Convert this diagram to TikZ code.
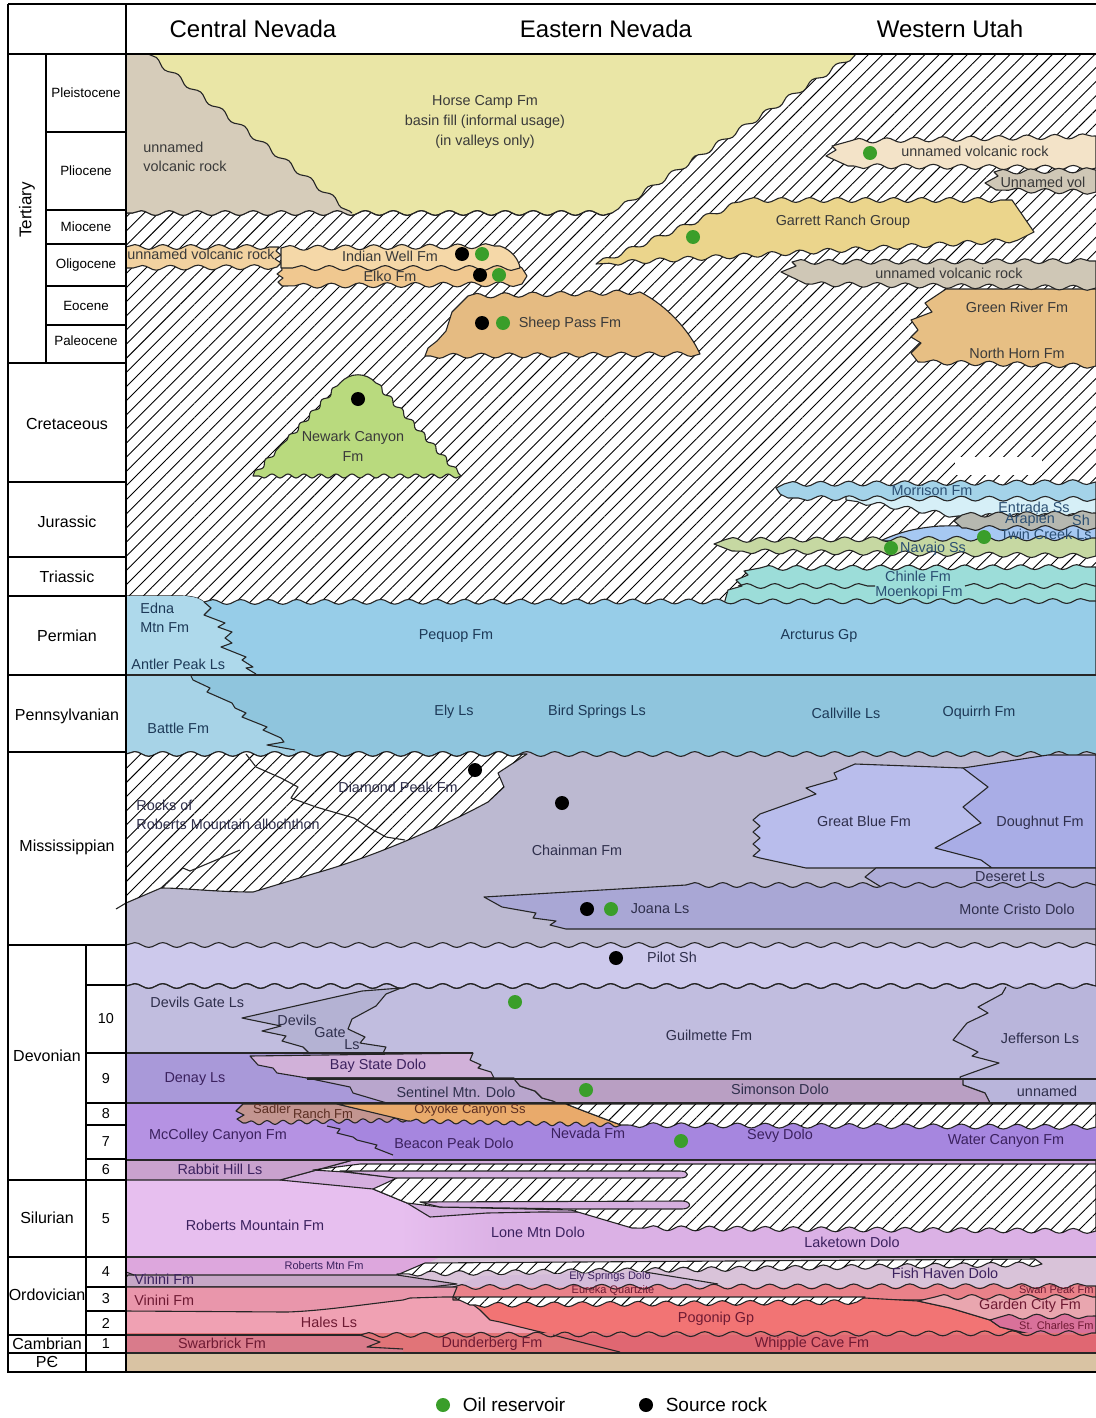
\documentclass[tikz,border=0pt]{standalone}
\usepackage{fontspec}
\setmainfont{Liberation Sans}
\usetikzlibrary{positioning, decorations.pathmorphing, patterns.meta}

% unit colours
\definecolor{horsecamp}{HTML}{EAE6A6}
\definecolor{volcgrey}{HTML}{D6CCBA}
\definecolor{volclight}{HTML}{F3E3C8}
\definecolor{volcmid}{HTML}{CFC7B6}
\definecolor{volcorange}{HTML}{F2D2A0}
\definecolor{garrett}{HTML}{EBD58C}
\definecolor{greenriver}{HTML}{E7BF84}
\definecolor{indianwell}{HTML}{F5D8A8}
\definecolor{elko}{HTML}{F0C890}
\definecolor{sheeppass}{HTML}{E5BB82}
\definecolor{newark}{HTML}{B9DA7E}
\definecolor{morrison}{HTML}{A4D3E9}
\definecolor{entrada}{HTML}{D6EFF7}
\definecolor{arapien}{HTML}{B6B8B0}
\definecolor{twincreek}{HTML}{A6C8F2}
\definecolor{navajo}{HTML}{C6D8A2}
\definecolor{chinle}{HTML}{9CDDD9}
\definecolor{pequop}{HTML}{97CDE8}
\definecolor{edna}{HTML}{AED9EB}
\definecolor{ely}{HTML}{8FC5DD}
\definecolor{battle}{HTML}{A7D3E7}
\definecolor{chainman}{HTML}{BCB9D1}
\definecolor{greatblue}{HTML}{B9BDEC}
\definecolor{doughnut}{HTML}{A9ADE6}
\definecolor{deseret}{HTML}{AEACD8}
\definecolor{joana}{HTML}{A9A7D5}
\definecolor{pilot}{HTML}{CDC9EC}
\definecolor{guilmette}{HTML}{C1BDDF}
\definecolor{devilsgate}{HTML}{B4B2D3}
\definecolor{jefferson}{HTML}{B9B5DB}
\definecolor{denay}{HTML}{A999D9}
\definecolor{baystate}{HTML}{D1B1D9}
\definecolor{sentinel}{HTML}{B9A6CD}
\definecolor{simonson}{HTML}{B99FC3}
\definecolor{mccolley}{HTML}{B592E3}
\definecolor{beacon}{HTML}{A686DF}
\definecolor{sadler}{HTML}{C39590}
\definecolor{oxyoke}{HTML}{E9AA6B}
\definecolor{rabbit}{HTML}{C9A2CE}
\definecolor{tongue}{HTML}{D5AFDF}
\definecolor{robmtn}{HTML}{E7BFEF}
\definecolor{laketown}{HTML}{DBB1E5}
\definecolor{robord}{HTML}{DDA7DD}
\definecolor{vinini}{HTML}{C6A7C6}
\definecolor{elysprings}{HTML}{D4BBD9}
\definecolor{fishhaven}{HTML}{D9C3D9}
\definecolor{vinini3}{HTML}{E996AB}
\definecolor{eureka}{HTML}{E98189}
\definecolor{gardencity}{HTML}{E9A6AF}
\definecolor{stcharles}{HTML}{D9719A}
\definecolor{pogonip}{HTML}{F27474}
\definecolor{hales}{HTML}{F0A1B3}
\definecolor{swarbrick}{HTML}{D97B8B}
\definecolor{dunderberg}{HTML}{E17478}
\definecolor{whipple}{HTML}{E06772}
\definecolor{precamb}{HTML}{D9C3A3}
\definecolor{oilgreen}{HTML}{3A9E2A}
% text colours
\definecolor{tgrey}{HTML}{3A3A3A}
\definecolor{tblue}{HTML}{1D3957}
\definecolor{tteal}{HTML}{2B4F73}
\definecolor{tlav}{HTML}{2F2F4C}
\definecolor{tpurple}{HTML}{3B215E}
\definecolor{tbrown}{HTML}{5B2E22}
\definecolor{tred}{HTML}{6E1A33}

\tikzstyle{unitline}=[draw=black!85, line width=0.55pt, line join=round]
\tikzstyle{tabline}=[line width=0.9pt]
\tikzstyle{hatch}=[fill=white, postaction={pattern={Lines[angle=45,distance=5pt,line width=0.45pt]}}]
\tikzstyle{wave}=[decoration={snake, amplitude=1.2pt, segment length=14pt}]
\tikzstyle{ripple}=[decoration={snake, amplitude=1pt, segment length=8pt}]
\tikzstyle{fm}=[font=\fontsize{7.2}{9.8}\selectfont, inner sep=0pt, text=tgrey]
\tikzstyle{fmsmall}=[fm, font=\fontsize{5.5}{6}\selectfont]
\tikzstyle{period}=[font=\fontsize{8}{9}\selectfont, inner sep=0pt]
\tikzstyle{epoch}=[font=\fontsize{6.7}{7}\selectfont, inner sep=0pt]
\tikzstyle{colhead}=[font=\fontsize{12}{13}\selectfont, inner sep=0pt]
\tikzstyle{oil}=[circle, fill=oilgreen, inner sep=0pt, minimum size=7pt]
\tikzstyle{src}=[circle, fill=black, inner sep=0pt, minimum size=7pt]
\tikzstyle{legendtext}=[font=\fontsize{9.5}{10}\selectfont, inner sep=0pt, anchor=west]

\begin{document}
\begin{tikzpicture}[x=0.5pt, y=-0.5pt]
  \useasboundingbox (0,0) rectangle (1096,1418);
  \fill[white] (0,0) rectangle (1096,1418);

  % Tertiary to Triassic
  \path[hatch] (126,54) rectangle (1096,612);
  \filldraw[unitline, fill=horsecamp] (126,54) -- (856,54) decorate[wave]{-- (612,213)} decorate[wave]{-- (126,213)} -- cycle;
  \begin{scope}
    \clip (126,50) -- (148,54) decorate[wave]{-- (352,213)} -- (352,240) -- (126,240) -- cycle;
    \fill[volcgrey] (126,54) -- (856,54) decorate[wave]{-- (612,213)} decorate[wave]{-- (126,213)} -- cycle;
  \end{scope}
  \draw[unitline] (148,54) decorate[wave]{-- (352,213)};
  \draw[unitline] (612,213) decorate[wave]{-- (126,213)};

  \filldraw[unitline, fill=garrett] (596,264) decorate[wave]{-- (745,200)} decorate[wave]{-- (1012,200)} -- (1034,232) -- (1018,240) decorate[wave]{-- (596,264)} -- cycle;
  \filldraw[unitline, fill=volclight] (826,156) -- (836,150) -- (832,146) -- (850,141) decorate[wave]{-- (1096,136)} -- (1096,168) decorate[wave]{-- (848,166)} -- cycle;
  \filldraw[unitline, fill=volcmid] (985,183) -- (998,176) -- (994,172) decorate[wave]{-- (1096,170)} -- (1096,192) decorate[wave]{-- (996,190)} -- cycle;
  \filldraw[unitline, fill=greenriver] (946,289) -- (1096,289) -- (1096,366) decorate[wave]{-- (918,362)} -- (911,353) -- (921,343) -- (911,337) -- (918,330) -- (911,320) -- (932,312) -- (925,303) -- cycle;
  \filldraw[unitline, fill=volcmid] (781,272) -- (796,266) -- (792,262) decorate[wave]{-- (1096,261)} -- (1096,288) decorate[wave]{-- (806,284)} -- cycle;

  \filldraw[unitline, fill=volcorange] (126,247) decorate[wave]{-- (279,247)} -- (276,251) -- (281,255) -- (275,259) -- (281,263) -- (277,267) decorate[wave]{-- (126,268)} -- cycle;
  \filldraw[unitline, fill=elko] (281,262) -- (512,262) -- (522,268) -- (527,276) -- (522,284) decorate[wave]{-- (282,286)} -- (278,282) -- (283,278) -- (277,274) -- (282,270) -- cycle;
  \filldraw[unitline, fill=indianwell] (281,248) decorate[wave]{-- (500,246)} .. controls (512,250) and (519,260) .. (520,268) decorate[wave]{-- (281,268)} -- cycle;
  \filldraw[unitline, fill=sheeppass] (468,296) decorate[wave]{-- (640,292)} .. controls (668,306) and (690,332) .. (700,354) decorate[wave]{-- (425,356)} -- (428,348) -- (437,341) -- (446,331) -- (452,312) -- cycle;
  \filldraw[unitline, fill=newark] (253,476) decorate[ripple]{-- (281,445)} -- (287,440) decorate[ripple]{-- (340,383)} .. controls (350,372) and (366,372) .. (376,383) decorate[ripple]{-- (461,476)} decorate[ripple]{-- (253,476)} -- cycle;

  % Western Utah, Jurassic and Triassic
  \fill[white] (955,457) rectangle (1042,475);
  \filldraw[unitline, fill=chinle] (724,604) -- (728,590) -- (742,586) -- (736,580) -- (748,575) -- (744,571) -- (760,568) decorate[wave]{-- (1096,567)} -- (1096,604) -- cycle;
  \draw[unitline] (738,586) decorate[wave]{-- (875,586)};
  \draw[unitline] (965,586) decorate[wave]{-- (1096,586)};
  \filldraw[unitline, fill=twincreek] (880,541) .. controls (900,532) and (915,528) .. (940,526) -- (1096,524) -- (1096,542) -- cycle;
  \filldraw[unitline, fill=entrada] (846,500) -- (846,494) -- (1096,494) -- (1096,516) decorate[wave]{-- (958,516)} decorate[wave]{-- (846,500)} -- cycle;
  \filldraw[unitline, fill=arapien] (954,521) -- (962,515) decorate[wave]{-- (1096,513)} -- (1096,528) decorate[wave]{-- (962,528)} -- cycle;
  \filldraw[unitline, fill=morrison] (776,488) -- (784,484) decorate[wave]{-- (1096,482)} -- (1096,499) decorate[wave]{-- (788,498)} -- (780,494) -- cycle;
  \filldraw[unitline, fill=navajo] (714,544) -- (724,540) decorate[wave]{-- (1096,538)} -- (1096,556) decorate[wave]{-- (732,551)} -- cycle;

  % Permian
  \filldraw[unitline, fill=pequop] (126,596) -- (182,596) .. controls (196,596) and (201,600) .. (204,602) decorate[wave]{-- (1096,601)} -- (1096,675) -- (126,675) -- cycle;
  \fill[edna] (126,596) -- (182,596) .. controls (196,596) and (201,600) .. (204,602) -- (211,608) -- (204,615) -- (225,623) -- (218,627) -- (232,632) -- (225,638) -- (232,643) -- (221,647) -- (246,657) -- (242,660) -- (253,667) -- (246,668) -- (256,674) -- (256,675) -- (126,675) -- cycle;
  \draw[unitline] (204,602) -- (211,608) -- (204,615) -- (225,623) -- (218,627) -- (232,632) -- (225,638) -- (232,643) -- (221,647) -- (246,657) -- (242,660) -- (253,667) -- (246,668) -- (256,674);

  % Pennsylvanian
  \fill[ely] (126,675) rectangle (1096,762);
  \fill[battle] (126,675) -- (191,675) -- (193,680) -- (210,688) -- (207,692) -- (232,703) -- (235,708) -- (246,713) -- (242,717) -- (267,727) -- (263,730) -- (281,738) -- (284,742) -- (267,745) -- (295,750) -- (295,762) -- (126,762) -- cycle;
  \draw[unitline] (191,676) -- (193,680) -- (210,688) -- (207,692) -- (232,703) -- (235,708) -- (246,713) -- (242,717) -- (267,727) -- (263,730) -- (281,738) -- (284,742) -- (267,745) -- (295,750);
  \draw[unitline, line width=0.8pt] (126,675) -- (1096,675);

  % Mississippian
  \filldraw[unitline, fill=chainman] (126,754) decorate[wave]{-- (1096,754)} -- (1096,950) -- (126,950) -- cycle;
  \filldraw[unitline, hatch] (126,754) decorate[wave]{-- (527,754)} -- (498,773) -- (504,787) -- (488,802) .. controls (440,828) and (370,858) .. (316,873) -- (253,892) .. controls (215,892) and (185,888) .. (161,888) -- (126,903) -- cycle;
  \draw[unitline] (126,903) -- (116,909);
  \draw[unitline] (161,888) -- (183,868) -- (190,871) -- (240,850);
  \draw[unitline] (246,754) -- (256,767) -- (281,778) -- (298,787) -- (291,798) -- (316,807) -- (354,818) -- (368,827) -- (386,837) -- (405,840);
  \filldraw[unitline, fill=doughnut] (963,768) -- (1048,755) -- (1096,755) -- (1096,868) -- (930,868) -- (930,770) -- cycle;
  \filldraw[unitline, fill=greatblue] (855,764) -- (963,768) -- (988,787) -- (963,807) -- (981,823) -- (935,848) -- (981,860) -- (992,868) -- (806,868) -- (760,858) -- (753,856) -- (760,850) -- (753,844) -- (760,838) -- (753,832) -- (760,826) -- (753,820) -- (760,814) -- (816,794) -- (806,788) -- (837,779) -- (834,773) -- cycle;
  \filldraw[unitline, fill=deseret] (876,868) -- (1096,868) -- (1096,890) -- (886,890) -- (865,877) -- cycle;
  \filldraw[unitline, fill=joana] (484,897) -- (686,885) decorate[wave]{-- (1096,885)} -- (1096,929) -- (566,929) -- (550,925) -- (556,921) -- (533,918) -- (536,913) -- (502,907) -- cycle;

  % Devonian
  \filldraw[unitline, fill=pilot] (126,945) decorate[wave]{-- (1096,945)} -- (1096,990) -- (126,990) -- cycle;
  \filldraw[unitline, fill=guilmette] (126,986) decorate[wave]{-- (1096,986)} -- (1096,1080) -- (126,1080) -- cycle;
  \filldraw[unitline, fill=devilsgate] (242,1018) -- (362,991) -- (401,988) -- (386,994) -- (376,1006) -- (352,1019) -- (348,1029) -- (365,1037) -- (360,1043) -- (386,1047) -- (383,1053) -- (309,1053) -- (303,1047) -- (282,1041) -- (286,1036) -- (262,1031) -- (281,1026) -- cycle;
  \fill[jefferson] (1006,986) -- (1096,986) -- (1096,1103) -- (990,1103) -- (985,1093) -- (963,1085) -- (960,1077) -- (999,1063) -- (972,1056) -- (978,1052) -- (953,1040) -- (967,1023) -- (988,1013) -- (978,1007) -- (1002,994) -- cycle;
  \draw[unitline] (1006,987) -- (1002,994) -- (978,1007) -- (988,1013) -- (967,1023) -- (953,1040) -- (978,1052) -- (972,1056) -- (999,1063) -- (960,1077) -- (963,1085) -- (985,1093) -- (990,1103);
  \draw[unitline] (126,986) decorate[wave]{-- (1096,986)};

  \fill[denay] (126,1053) rectangle (420,1103);
  \filldraw[unitline, fill=baystate] (250,1056) -- (473,1053) -- (470,1060) -- (481,1065) -- (478,1068) -- (491,1072) -- (494,1078) -- (307,1078) -- (277,1073) -- (273,1068) -- (258,1065) -- cycle;
  \filldraw[unitline, fill=sentinel] (307,1078) -- (514,1078) -- (520,1086) -- (535,1091) -- (542,1098) -- (553,1101) -- (557,1103) -- (387,1103) -- (380,1101) -- (353,1093) -- (350,1087) -- cycle;
  \filldraw[unitline, fill=simonson] (514,1079) -- (963,1079) -- (963,1085) -- (985,1093) -- (990,1103) -- (557,1103) -- (553,1101) -- (542,1098) -- (535,1091) -- (520,1086) -- cycle;
  \draw[unitline, line width=0.8pt] (126,1053) -- (473,1053);
  \draw[unitline, line width=0.8pt] (307,1079) -- (1096,1079);

  \fill[beacon] (126,1103) rectangle (1096,1160);
  \fill[mccolley] (126,1103) -- (330,1103) -- (327,1127) -- (340,1129) -- (337,1133) -- (353,1137) -- (357,1140) -- (377,1145) -- (375,1148) -- (393,1155) -- (393,1160) -- (126,1160) -- cycle;
  \draw[unitline] (327,1126) -- (340,1129) -- (337,1133) -- (353,1137) -- (357,1140) -- (377,1145) -- (375,1148) -- (393,1155);
  \filldraw[unitline, fill=sadler] (243,1104) -- (337,1104) -- (408,1120) decorate[ripple]{-- (243,1123)} -- (237,1119) -- (244,1115) -- (236,1111) -- cycle;
  \filldraw[unitline, fill=oxyoke] (337,1104) -- (566,1104) -- (584,1111) -- (621,1125) decorate[ripple]{-- (408,1121)} -- cycle;
  \filldraw[unitline, hatch] (566,1104) -- (1096,1104) -- (1096,1127) decorate[wave]{-- (621,1125)} -- (584,1111) -- cycle;
  \draw[unitline, line width=0.8pt] (126,1103) -- (1096,1103);

  % Devonian row 6 and Silurian
  \fill[laketown] (126,1160) rectangle (1096,1257);
  \fill[robmtn] (126,1180) rectangle (400,1257);
  \shade[left color=robmtn, right color=laketown] (400,1180) rectangle (500,1257);
  \filldraw[unitline, fill=tongue] (280,1180) -- (353,1160) -- (1096,1160) -- (1096,1214) -- (540,1212) -- (487,1213) -- (430,1217) -- (407,1203) -- (373,1189) -- cycle;
  \filldraw[unitline, fill=rabbit] (126,1160) -- (353,1160) -- (280,1180) -- (126,1180) -- cycle;
  \filldraw[unitline, hatch] (313,1170) -- (360,1164) -- (1096,1164) -- (1096,1231) decorate[wave]{-- (632,1228)} -- (571,1210) -- (440,1207) -- (407,1203) -- (373,1189) -- (397,1178) -- (345,1172) -- cycle;
  \filldraw[unitline, fill=tongue] (340,1171) -- (680,1171) .. controls (690,1171) and (690,1178) .. (680,1178) -- (395,1178) -- cycle;
  \filldraw[unitline, fill=tongue] (420,1202) -- (682,1201) .. controls (692,1201) and (692,1209) .. (682,1209) -- (575,1209) -- (440,1207) -- cycle;
  \draw[unitline, line width=0.8pt] (126,1160) -- (1096,1160);

  % Ordovician
  \fill[fishhaven] (126,1257) rectangle (1096,1290);
  \fill[robord] (126,1257) -- (440,1257) -- (430,1262) -- (397,1275) -- (126,1275) -- cycle;
  \filldraw[unitline, hatch] (397,1275) -- (425,1263) -- (1035,1259) -- (1042,1264) decorate[wave]{-- (397,1274)} -- cycle;
  \filldraw[unitline, fill=vinini] (128,1275) -- (397,1275) -- (457,1284) -- (430,1287) -- (126,1287) -- (126,1277) -- cycle;
  \draw[unitline] (126,1272) -- (134,1275);
  \fill[elysprings] (457,1285) -- (480,1276) -- (645,1272) -- (688,1279) -- (718,1284) -- (718,1288) -- (457,1288) -- cycle;
  \draw[unitline] (645,1272) -- (688,1279) -- (718,1284);
  \fill[hales] (126,1287) rectangle (1096,1340);
  \filldraw[unitline, fill=eureka] (453,1287) decorate[wave]{-- (1096,1286)} -- (1096,1300) -- (453,1300) -- cycle;
  \filldraw[unitline, fill=vinini3] (126,1287) -- (457,1287) -- (453,1297) -- (443,1297) -- (410,1298) -- (403,1300) .. controls (360,1305) and (320,1311) .. (287,1312) -- (126,1311) -- cycle;
  \filldraw[unitline, fill=pogonip] (467,1300) -- (865,1298) -- (918,1301) -- (950,1308) -- (990,1320) -- (1000,1327) -- (1030,1335) -- (553,1335) -- (520,1327) -- (500,1322) -- (490,1320) -- (480,1310) -- cycle;
  \filldraw[unitline, hatch] (453,1297) -- (865,1297) -- (857,1302) decorate[wave]{-- (470,1305)} -- cycle;
  \filldraw[unitline, fill=gardencity] (918,1301) -- (935,1297) decorate[wave]{-- (1096,1297)} -- (1096,1320) -- (990,1320) -- (950,1308) -- cycle;
  \filldraw[unitline, fill=stcharles] (990,1320) -- (1000,1317) decorate[wave]{-- (1096,1316)} -- (1096,1334) -- (1030,1334) -- (1000,1327) -- cycle;
  \draw[unitline, line width=0.8pt] (126,1257) -- (1096,1257);

  % Cambrian and Precambrian
  \fill[dunderberg] (126,1333) rectangle (1096,1353);
  \fill[swarbrick] (126,1335) -- (360,1335) -- (380,1342) -- (367,1347) -- (403,1349) -- (403,1353) -- (126,1353) -- cycle;
  \fill[whipple] (553,1335) -- (1096,1335) -- (1096,1353) -- (620,1353) -- (600,1347) -- cycle;
  \draw[unitline] (360,1335) decorate[wave]{-- (1096,1333)};
  \draw[unitline] (360,1335) -- (380,1342) -- (367,1347) -- (403,1349);
  \draw[unitline] (553,1335) -- (600,1347) -- (620,1352);
  \draw[unitline] (126,1335) -- (360,1335);
  \fill[precamb] (126,1353) rectangle (1096,1372);
  \draw[unitline, line width=0.8pt] (126,1353) -- (1096,1353);

  % unit labels
  \node[fm, align=left, anchor=west] (uvrwest) at (143,157) {unnamed\\volcanic rock};
  \node[fm, align=center] (horsecamplbl) at (485,122) {Horse Camp Fm\\basin fill (informal usage)\\(in valleys only)};
  \node[fm] (uvrnorth) at (975,151) {unnamed volcanic rock};
  \node[fm] (uvol) at (1043,182) {Unnamed vol};
  \node[fm] (garrettlbl) at (843,222) {Garrett Ranch Group};
  \node[fm] (uvrmid) at (949,273) {unnamed volcanic rock};
  \node[fm] (greenriverlbl) at (1017,307) {Green River Fm};
  \node[fm] (northhornlbl) at (1017,353) {North Horn Fm};
  \node[fm] (uvroligo) at (201,254) {unnamed volcanic rock};
  \node[fm] (indianwelllbl) at (390,256) {Indian Well Fm};
  \node[fm] (elkolbl) at (390,276) {Elko Fm};
  \node[fm] (sheeppasslbl) at (570,324) {Sheep Pass Fm};
  \node[fm, align=center] (newarklbl) at (353,446) {Newark Canyon\\Fm};

  \node[fm, text=tteal] (morrisonlbl) at (932,490) {Morrison Fm};
  \node[fm, text=tteal] (entradalbl) at (1034,507) {Entrada Ss};
  \node[fm, text=tteal] (arapienlbl) at (1030,520) {Arapien};
  \node[fm, text=tteal] (arapiensh) at (1081,520) {Sh};
  \node[fm, text=tteal] (twincreeklbl) at (1046,534) {Twin Creek Ls};
  \node[fm, text=tteal] (navajolbl) at (933,549) {Navajo Ss};
  \node[fm, text=tteal] (chinlelbl) at (918,576) {Chinle Fm};
  \node[fm, text=tteal] (moenkopilbl) at (919,593) {Moenkopi Fm};

  \node[fm, text=tblue, align=left, anchor=west] (ednalbl) at (140,618) {Edna\\Mtn Fm};
  \node[fm, text=tblue, anchor=west] (antlerlbl) at (131,664) {Antler Peak Ls};
  \node[fm, text=tblue] (pequoplbl) at (456,636) {Pequop Fm};
  \node[fm, text=tblue] (arcturuslbl) at (819,636) {Arcturus Gp};
  \node[fm, text=tblue, anchor=west] (battlelbl) at (147,728) {Battle Fm};
  \node[fm, text=tblue] (elylbl) at (454,712) {Ely Ls};
  \node[fm, text=tblue] (birdspringslbl) at (597,712) {Bird Springs Ls};
  \node[fm, text=tblue] (callvillelbl) at (846,713) {Callville Ls};
  \node[fm, text=tblue] (oquirrhlbl) at (979,713) {Oquirrh Fm};

  \node[fm, text=tlav, align=left, anchor=west] (rmalbl) at (136,815) {Rocks of\\Roberts Mountain allochthon};
  \node[fm, text=tlav] (diamondlbl) at (398,787) {Diamond Peak Fm};
  \node[fm, text=tlav] (chainmanlbl) at (577,850) {Chainman Fm};
  \node[fm, text=tlav] (greatbluelbl) at (864,821) {Great Blue Fm};
  \node[fm, text=tlav] (doughnutlbl) at (1040,823) {Doughnut Fm};
  \node[fm, text=tlav] (deseretlbl) at (1010,877) {Deseret Ls};
  \node[fm, text=tlav] (joanalbl) at (660,909) {Joana Ls};
  \node[fm, text=tlav] (montecristolbl) at (1017,909) {Monte Cristo Dolo};
  \node[fm, text=tlav] (pilotlbl) at (672,957) {Pilot Sh};
  \node[fm, text=tlav, anchor=west] (devilsgatelbl) at (150,1002) {Devils Gate Ls};
  \node[fm, text=tlav] (dgdevils) at (297,1020) {Devils};
  \node[fm, text=tlav] (dggate) at (330,1033) {Gate};
  \node[fm, text=tlav] (dgls) at (352,1045) {Ls};
  \node[fm, text=tlav] (guilmettelbl) at (709,1035) {Guilmette Fm};
  \node[fm, text=tlav] (jeffersonlbl) at (1040,1038) {Jefferson Ls};
  \node[fm, text=tpurple] (denaylbl) at (195,1079) {Denay Ls};
  \node[fm, text=tpurple] (baystatelbl) at (378,1066) {Bay State Dolo};
  \node[fm, text=tlav] (sentinellbl) at (456,1092) {Sentinel Mtn. Dolo};
  \node[fm, text=tlav] (simonsonlbl) at (780,1089) {Simonson Dolo};
  \node[fm, text=tlav] (unnamedlbl) at (1047,1091) {unnamed};
  \node[fm, text=tbrown, font=\fontsize{6.5}{7}\selectfont] (sadlerlbl) at (272,1109) {Sadler};
  \node[fm, text=tbrown, font=\fontsize{6.5}{7}\selectfont] (ranchlbl) at (323,1114) {Ranch Fm};
  \node[fm, text=tbrown, font=\fontsize{6.5}{7}\selectfont] (oxyokelbl) at (470,1110) {Oxyoke Canyon Ss};
  \node[fm, text=tpurple] (mccolleylbl) at (218,1136) {McColley Canyon Fm};
  \node[fm, text=tpurple] (beaconlbl) at (454,1143) {Beacon Peak Dolo};
  \node[fm, text=tpurple] (nevadalbl) at (588,1133) {Nevada Fm};
  \node[fm, text=tpurple] (sevylbl) at (780,1136) {Sevy Dolo};
  \node[fm, text=tpurple] (watercanyonlbl) at (1006,1141) {Water Canyon Fm};
  \node[fm, text=tpurple] (rabbitlbl) at (220,1169) {Rabbit Hill Ls};
  \node[fm, text=tpurple] (robmtnlbl) at (255,1225) {Roberts Mountain Fm};
  \node[fm, text=tpurple] (lonemtnlbl) at (538,1232) {Lone Mtn Dolo};
  \node[fm, text=tpurple] (laketownlbl) at (852,1242) {Laketown Dolo};

  \node[fmsmall, text=tpurple] (robordlbl) at (324,1266) {Roberts Mtn Fm};
  \node[fm, text=tpurple, anchor=west] (vinini4lbl) at (134,1279) {Vinini Fm};
  \node[fm, text=tred, anchor=west] (vinini3lbl) at (134,1300) {Vinini Fm};
  \node[fm, text=tred] (haleslbl) at (329,1322) {Hales Ls};
  \node[fmsmall, text=tpurple] (elyspringslbl) at (610,1277) {Ely Springs Dolo};
  \node[fmsmall, text=tred] (eurekalbl) at (613,1291) {Eureka Quartzite};
  \node[fm, text=tpurple] (fishhavenlbl) at (945,1273) {Fish Haven Dolo};
  \node[fmsmall, text=tred, anchor=east] (swanpeaklbl) at (1094,1290) {Swan Peak Fm};
  \node[fm, text=tred] (gardencitylbl) at (1030,1306) {Garden City Fm};
  \node[fmsmall, text=tred, anchor=east] (stcharleslbl) at (1094,1326) {St. Charles Fm};
  \node[fm, text=tred] (pogoniplbl) at (716,1319) {Pogonip Gp};
  \node[fm, text=tred] (swarbricklbl) at (222,1343) {Swarbrick Fm};
  \node[fm, text=tred] (dunderberglbl) at (492,1344) {Dunderberg Fm};
  \node[fm, text=tred] (whipplelbl) at (812,1344) {Whipple Cave Fm};

  % oil reservoirs and source rocks
  \node[src] (src1) at (462,254) {};
  \node[oil] (oil1) at (482,254) {};
  \node[src] (src2) at (480,275) {};
  \node[oil] (oil2) at (499,275) {};
  \node[src] (src3) at (482,323) {};
  \node[oil] (oil3) at (503,323) {};
  \node[src] (src4) at (358,399) {};
  \node[oil] (oil4) at (870,153) {};
  \node[oil] (oil5) at (693,237) {};
  \node[oil] (oil6) at (891,548) {};
  \node[oil] (oil7) at (984,537) {};
  \node[src] (src5) at (475,770) {};
  \node[src] (src6) at (562,803) {};
  \node[src] (src7) at (587,909) {};
  \node[oil] (oil8) at (611,909) {};
  \node[src] (src8) at (616,958) {};
  \node[oil] (oil9) at (515,1002) {};
  \node[oil] (oil10) at (586,1090) {};
  \node[oil] (oil11) at (681,1141) {};

  % time scale table
  \draw[tabline] (8,4) -- (1096,4);
  \draw[tabline] (8,54) -- (1096,54);
  \draw[tabline] (8,4) -- (8,1372) -- (1096,1372);
  \draw[tabline] (126,4) -- (126,1372);
  \draw[tabline] (46,54) -- (46,363);
  \draw[tabline] (86,945) -- (86,1372);
  \foreach \y in {132,210,244,286,325} \draw[tabline] (46,\y) -- (126,\y);
  \foreach \y in {363,482,557,596,675,752,945,1180,1257,1335,1353} \draw[tabline] (8,\y) -- (126,\y);
  \foreach \y in {985,1053,1103,1125,1159,1287,1311} \draw[tabline] (86,\y) -- (126,\y);

  \node[colhead] (central) at (253,29) {Central Nevada};
  \node[colhead] (eastern) at (606,29) {Eastern Nevada};
  \node[colhead] (western) at (950,29) {Western Utah};

  \node[period, font=\fontsize{8.5}{9}\selectfont, rotate=90] (tertiary) at (27,210) {Tertiary};
  \foreach \lbl/\y [count=\i] in {Pleistocene/93, Pliocene/171, Miocene/227, Oligocene/265, Eocene/306, Paleocene/341}
    \node[epoch] (epoch\i) at (86,\y) {\lbl};
  \foreach \lbl/\y [count=\i] in {Cretaceous/424, Jurassic/522, Triassic/577, Permian/636, Pennsylvanian/716, Mississippian/847}
    \node[period] (period\i) at (67,\y) {\lbl};
  \foreach \lbl/\y [count=\i] in {Devonian/1056, Silurian/1218, Ordovician/1295, Cambrian/1344, PЄ/1362}
    \node[period] (lperiod\i) at (47,\y) {\lbl};
  \foreach \lbl/\y in {10/1019, 9/1079, 8/1114, 7/1142, 6/1170, 5/1219, 4/1272, 3/1299, 2/1323, 1/1344}
    \node[epoch, font=\fontsize{7.2}{8}\selectfont] (num\lbl) at (106,\y) {\lbl};

  % legend
  \node[oil] (legoil) at (443,1405) {};
  \node[legendtext, right=6pt of legoil] (legoiltext) {Oil reservoir};
  \node[src] (legsrc) at (646,1405) {};
  \node[legendtext, right=6pt of legsrc] (legsrctext) {Source rock};
\end{tikzpicture}
\end{document}
